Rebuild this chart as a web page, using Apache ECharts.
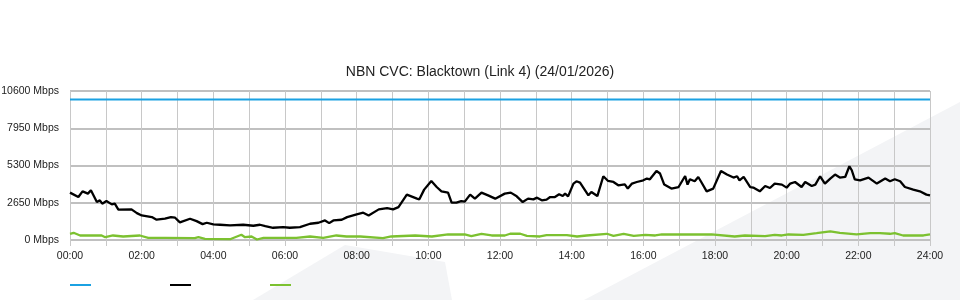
<!DOCTYPE html>
<html>
<head>
<meta charset="utf-8">
<script src="https://cdn.jsdelivr.net/npm/echarts@6/dist/echarts.min.js"></script>
<style>html,body{margin:0;padding:0;background:#fff;}#c{width:960px;height:300px;}</style>
</head>
<body>
<div id="c"></div>
<script>
const titleText = 'NBN CVC: Blacktown (Link 4) (24/01/2026)';
const seriesNames = ['Capacity', 'Download', 'Upload'];
const xTickLabels = ['00:00','02:00','04:00','06:00','08:00','10:00','12:00','14:00','16:00','18:00','20:00','22:00','24:00'];
const yTickLabels = ['0 Mbps','2650 Mbps','5300 Mbps','7950 Mbps','10600 Mbps'];

// minutes since midnight
const capacityTimes = [0, 1440];
const capacity = [10000, 10000];

const downTimes = [0,14,21,30,35,45,50,54,61,70,75,81,103,112,120,137,145,159,169,176,184,201,212,222,229,240,251,268,290,307,318,327,340,357,368,385,402,416,427,434,441,455,464,480,491,500,517,531,541,550,564,581,585,593,605,614,622,633,639,647,655,661,670,678,689,700,712,728,738,748,758,767,776,782,790,798,804,812,819,825,829,834,843,848,854,868,873,883,893,901,910,918,929,934,941,949,960,966,971,982,988,995,1007,1019,1030,1034,1038,1046,1052,1057,1066,1077,1090,1100,1111,1117,1121,1128,1139,1144,1155,1164,1172,1180,1192,1200,1206,1214,1225,1231,1242,1248,1256,1264,1273,1281,1289,1298,1305,1309,1314,1323,1337,1351,1365,1373,1381,1390,1398,1412,1423,1434,1440];
const download = [3370,3056,3463,3299,3534,2699,2820,2585,2770,2535,2585,2156,2178,1914,1749,1628,1442,1514,1628,1585,1250,1514,1342,1128,1228,1107,1085,1035,1085,1014,1085,985,871,914,871,914,1157,1228,1392,1200,1392,1442,1628,1821,1942,1749,2178,2271,2178,2342,3227,2942,2892,3584,4198,3770,3463,3370,2656,2656,2770,2727,3227,2942,3370,3177,2942,3299,3370,3106,2699,2942,2892,3013,2820,2870,3056,3056,3249,3127,3299,3106,4013,4177,4084,3177,3413,3127,4534,4198,4127,3891,3963,3656,4013,4127,4248,4370,4320,4912,4727,3941,3656,3770,4555,3941,4320,4177,4484,4127,3463,3656,4912,4655,4441,4534,4248,4484,3770,3727,3463,3841,3699,4013,3941,3727,4013,4127,3770,4127,3841,3941,4534,4013,4370,4655,4441,4484,5248,4962,4320,4248,4441,4013,4370,4177,4320,4177,3770,3584,3463,3227,3177];

const upTimes = [0,6,17,53,59,72,89,117,131,159,209,215,226,268,287,293,304,313,324,379,402,424,446,463,486,524,538,578,606,633,661,672,689,706,728,737,754,765,787,798,832,849,865,899,910,927,944,963,980,991,1074,1113,1130,1164,1180,1192,1203,1228,1250,1273,1289,1317,1340,1356,1373,1381,1395,1429,1440];
const upload = [443,514,321,321,200,321,250,321,157,157,129,200,86,57,371,200,250,36,157,157,250,157,321,250,250,129,250,321,250,393,393,271,443,321,321,443,443,300,250,343,343,250,321,443,300,443,300,371,321,393,393,250,321,271,371,321,393,371,486,607,514,393,486,486,443,486,321,321,393];

const pair = (ts, vs) => ts.map((t, i) => [t, vs[i]]);

const chart = echarts.init(document.getElementById('c'), null, {renderer: 'canvas'});
const font = 'Liberation Sans, Arial, sans-serif';
chart.setOption({
  animation: false,
  backgroundColor: '#ffffff',
  textStyle: {fontFamily: font},
  title: {
    text: titleText, left: 'center', top: 65, padding: 0,
    textStyle: {fontSize: 14, fontWeight: 'normal', color: '#222', fontFamily: font}
  },
  graphic: [
    {type: 'polygon', z: -100, silent: true, shape: {points: [[253,300],[452,300],[445,262],[345,245]]}, style: {fill: '#f3f4f6'}},
    {type: 'polygon', z: -100, silent: true, shape: {points: [[584,300],[960,102],[960,300]]}, style: {fill: '#f3f4f6'}}
  ],
  legend: {
    left: 70, top: 284, icon: 'rect', itemWidth: 21, itemHeight: 2, itemGap: 79, padding: 0,
    formatter: () => '',
    data: seriesNames, selectedMode: false
  },
  grid: {left: 70, right: 30, top: 91, bottom: 60, containLabel: false, outerBoundsMode: 'none'},
  xAxis: {
    type: 'value', min: 0, max: 1440, interval: 60,
    axisLine: {show: false},
    axisTick: {show: true, length: 6, lineStyle: {color: '#c8c8c8'}},
    splitLine: {show: true, lineStyle: {color: '#c8c8c8', width: 1}},
    axisLabel: {
      margin: 11, fontSize: 10.5, color: '#222', fontFamily: font,
      formatter: v => (v % 120 === 0 ? xTickLabels[v / 120] : '')
    }
  },
  yAxis: {
    type: 'value', min: 0, max: 10600, interval: 2650,
    axisLine: {show: false}, axisTick: {show: false},
    splitLine: {show: true, lineStyle: {color: '#c0c0c0', width: 2}},
    axisLabel: {
      margin: 11, fontSize: 10.5, color: '#222', fontFamily: font, padding: [0, 0, 5, 0],
      formatter: v => yTickLabels[Math.round(v / 2650)]
    }
  },
  series: [
    {name: seriesNames[0], type: 'line', data: pair(capacityTimes, capacity), showSymbol: false, lineStyle: {color: '#1ba1e2', width: 2}, itemStyle: {color: '#1ba1e2'}},
    {name: seriesNames[1], type: 'line', data: pair(downTimes, download), showSymbol: false, lineStyle: {color: '#000000', width: 2.3}, itemStyle: {color: '#000000'}},
    {name: seriesNames[2], type: 'line', data: pair(upTimes, upload), showSymbol: false, lineStyle: {color: '#7cc130', width: 2.3}, itemStyle: {color: '#7cc130'}}
  ]
});
</script>
</body>
</html>
